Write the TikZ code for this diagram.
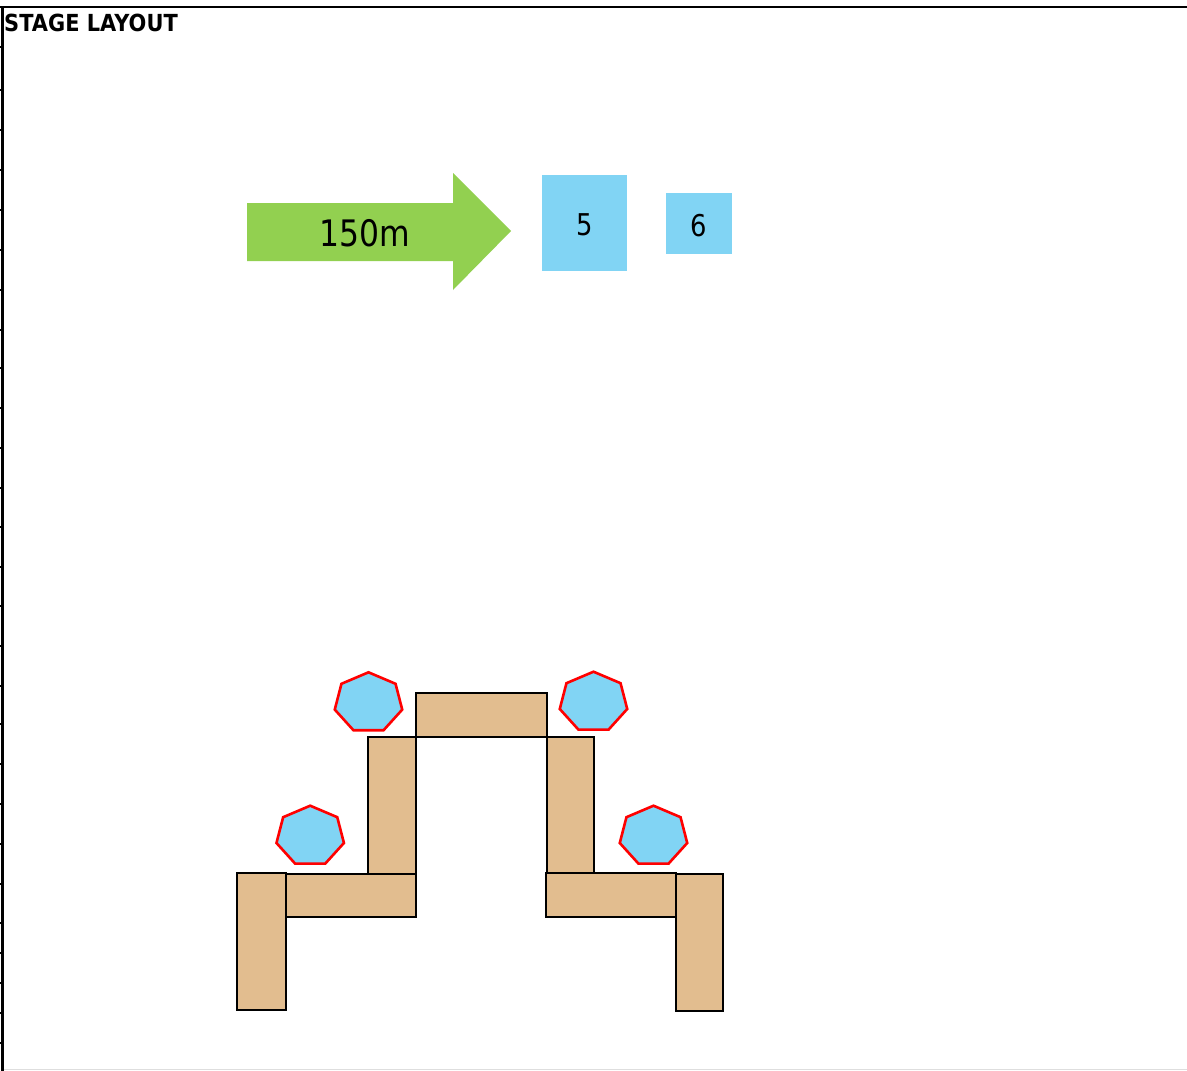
\documentclass[tikz,border=0pt]{standalone}
\usepackage{fontspec}
\setmainfont{DejaVu Sans}
\usetikzlibrary{calc}
\definecolor{arrowgreen}{RGB}{146,208,80}
\definecolor{boxblue}{RGB}{129,212,244}
\definecolor{stagetan}{RGB}{226,189,143}
\definecolor{framegray}{RGB}{222,222,222}
\tikzset{
  stagebox/.style={draw=black, fill=stagetan, line width=2.6pt},
  heptshape/.style={draw=red, fill=boxblue, line width=2.6pt, line join=miter},
  lbl/.style={inner sep=0pt, text=black},
  frameline/.style={draw=black, line width=2.6pt},
}
\newcommand{\hepta}[2]{%
  \draw[heptshape, shift={(#1,#2)}, xscale=34.6, yscale=-30.5]
    (90:1) -- (141.43:1) -- (192.86:1) -- (244.29:1) -- (295.71:1) -- (347.14:1) -- (38.57:1) -- cycle;}
\begin{document}
\begin{tikzpicture}[x=1pt,y=-1pt]
\useasboundingbox (0,0) rectangle (1187,1071);
\fill[white] (0,0) rectangle (1187,1071);
% frame
\draw[framegray, line width=1.5pt] (4,1069.5) -- (1187,1069.5);
\draw[frameline] (0,6.8) -- (1187,6.8);
\draw[frameline] (2.2,6) -- (2.2,1071);
\foreach \ty in {47,90,130,170,210,250,290,330,368,408,448,488,527,567,606,646,686,724,764,804,844,884,923,953,983,1013,1043}
  \draw[black, line width=1.4pt] (0,\ty) -- (3.5,\ty);
% title
\node[lbl, anchor=base west] (title) at (4,31.7) {\scalebox{0.89}[1]{\fontsize{23.5}{23.5}\selectfont\bfseries STAGE LAYOUT}};
% arrow
\fill[arrowgreen] (247,203) -- (453,203) -- (453,173) -- (511,231) -- (453,290) -- (453,261) -- (247,261) -- cycle;
\node[lbl, anchor=base] (dist) at (364.5,246) {\scalebox{0.86}[1]{\fontsize{36.5}{36.5}\selectfont 150m}};
% boxes 5 and 6
\fill[boxblue] (542,175) rectangle (627,271);
\node[lbl, anchor=base] (five) at (584.7,235) {\scalebox{0.86}[1]{\fontsize{30}{30}\selectfont 5}};
\fill[boxblue] (666,193) rectangle (732,254);
\node[lbl, anchor=base] (six) at (698.5,236) {\scalebox{0.86}[1]{\fontsize{30}{30}\selectfont 6}};
% stage
\draw[stagebox] (416,693) rectangle (547,737);
\draw[stagebox] (368,737) rectangle (416,874);
\draw[stagebox] (547,737) rectangle (594,874);
\draw[stagebox] (286,874) rectangle (416,917);
\draw[stagebox] (237,873) rectangle (286,1010);
\draw[stagebox] (546,873) rectangle (676,917);
\draw[stagebox] (676,874) rectangle (723,1011);
% heptagons
\hepta{368.5}{702.8}
\hepta{310.2}{836.2}
\hepta{593.5}{702.2}
\hepta{653.5}{836.2}
\end{tikzpicture}
\end{document}
